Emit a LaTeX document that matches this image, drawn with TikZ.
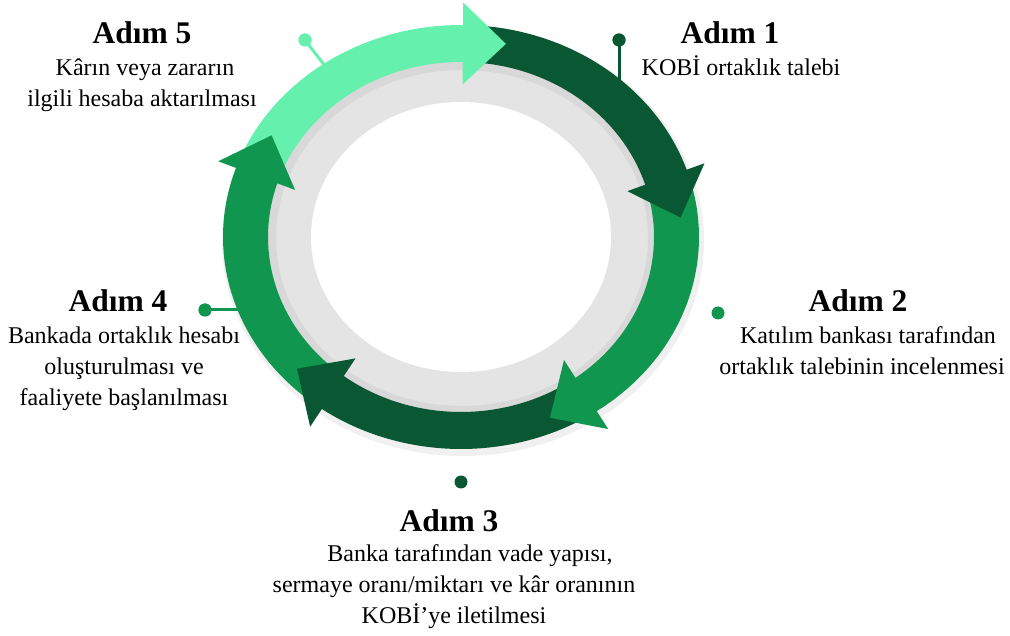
\documentclass[tikz,border=0pt]{standalone}
\usepackage{fontspec}
\setmainfont{Liberation Serif}
\usetikzlibrary{calc}
\definecolor{cLight}{HTML}{66F0AE}
\definecolor{cDark}{HTML}{0A5733}
\definecolor{cMed}{HTML}{10964F}
\definecolor{cGray}{HTML}{E4E4E4}
\def\CX{461}\def\CY{237}
\def\ROX{238}\def\ROY{212}
\def\RIX{193}\def\RIY{175}
\def\RMX{215.5}\def\RMY{193.5}
\newcommand\bandseg[3]{%
  \fill[#1] plot[domain=#2:#3, samples=80] ({\CX+\ROX*cos(\x)},{\CY-\ROY*sin(\x)})
    -- plot[domain=#3:#2, samples=80] ({\CX+\RIX*cos(\x)},{\CY-\RIY*sin(\x)}) -- cycle;}
\newcommand\arrhead[3]{%
  \coordinate (#1m) at ({\CX+\RMX*cos(#3)},{\CY-\RMY*sin(#3)});
  \coordinate (#1d) at ({\CX+\RMX*cos(#3)+\RMX*sin(#3)*0.2},{\CY-\RMY*sin(#3)+\RMY*cos(#3)*0.2});
  \fill[#2] ($(#1m)!41pt!90:(#1d)$) -- ($(#1m)!43pt!(#1d)$) -- ($(#1m)!41pt!-90:(#1d)$) -- cycle;}
\tikzset{
  title/.style={anchor=base, inner sep=0pt, font=\fontsize{31.5}{36}\selectfont\bfseries},
  desc/.style={anchor=base, inner sep=0pt, font=\fontsize{24}{31}\selectfont},
  pindot/.style={circle, inner sep=0pt, minimum size=13pt, fill=#1},
  pinline/.style={line width=3pt, draw=#1}
}
\newcommand\lines[1]{\vtop{\baselineskip=31pt\halign{\hfil##\hfil\cr#1\crcr}}}
\begin{document}
\begin{tikzpicture}[x=1pt,y=-1pt]
\useasboundingbox (0,0) rectangle (1010,636);
% shadow
\fill[black, opacity=0.06, even odd rule] (\CX+2,\CY+4) ellipse [x radius=241, y radius=215] (\CX+2,\CY+4) ellipse [x radius=186, y radius=168];
% gray ring and white centre
\fill[cGray] (\CX,\CY) ellipse [x radius=196, y radius=178];
\fill[black, opacity=0.05, even odd rule] (\CX,\CY) ellipse [x radius=196, y radius=178] (\CX+1,\CY+1) ellipse [x radius=186, y radius=168];
\fill[white] (\CX,\CY) ellipse [x radius=150, y radius=135];
% pins
\node[pindot=cLight] (d5) at (305,40) {};
\coordinate (e5) at (328,70);
\node[pindot=cDark] (d1) at (619,40) {};
\coordinate (e1) at (619,84);
\node[pindot=cMed] (d4) at (205,310) {};
\coordinate (e4) at (242,310);
\node[pindot=cMed] (d2) at (718,313) {};
\node[pindot=cDark] (d3) at (461,482) {};
\draw[pinline=cLight] (d5.center) -- (e5);
\draw[pinline=cDark] (d1.center) -- (e1);
\draw[pinline=cMed] (d4.center) -- (e4);
% bands
\bandseg{cDark}{87.5}{15}
\bandseg{cMed}{16}{-57.5}
\bandseg{cDark}{-56.5}{-129.5}
\bandseg{cMed}{-128.5}{-201.5}
\bandseg{cLight}{159.5}{86.5}
% arrowheads
\arrhead{a1}{cDark}{18}
\arrhead{a2}{cMed}{-54.5}
\arrhead{a3}{cDark}{-126.5}
\arrhead{a4}{cMed}{161.5}
\arrhead{a5}{cLight}{89.5}
% redraw dots on top
\node[pindot=cLight] at (d5) {};
\node[pindot=cDark] at (d1) {};
\node[pindot=cMed] at (d4) {};
% texts
\node[title] (t5) at (142,44) {Adım 5};
\node[desc] (s5) at (142,76) {\lines{\hspace*{6pt}Kârın veya zararın\cr ilgili hesaba aktarılması}};
\node[title] (t1) at (730,44) {Adım 1};
\node[desc] (s1) at (741,76) {\lines{KOBİ ortaklık talebi}};
\node[title] (t2) at (858,312) {Adım 2};
\node[desc] (s2) at (862,344) {\lines{\hspace*{12pt}Katılım bankası tarafından\cr ortaklık talebinin incelenmesi}};
\node[title] (t4) at (118,312) {Adım 4};
\node[desc] (s4) at (124,344) {\lines{Bankada ortaklık hesabı\cr oluşturulması ve\cr faaliyete başlanılması}};
\node[title] (t3) at (449,531) {Adım 3};
\node[desc] (s3) at (454,561) {\lines{\hspace*{32pt}Banka tarafından vade yapısı,\cr sermaye oranı/miktarı ve kâr oranının\cr KOBİ’ye iletilmesi}};
\end{tikzpicture}
\end{document}
